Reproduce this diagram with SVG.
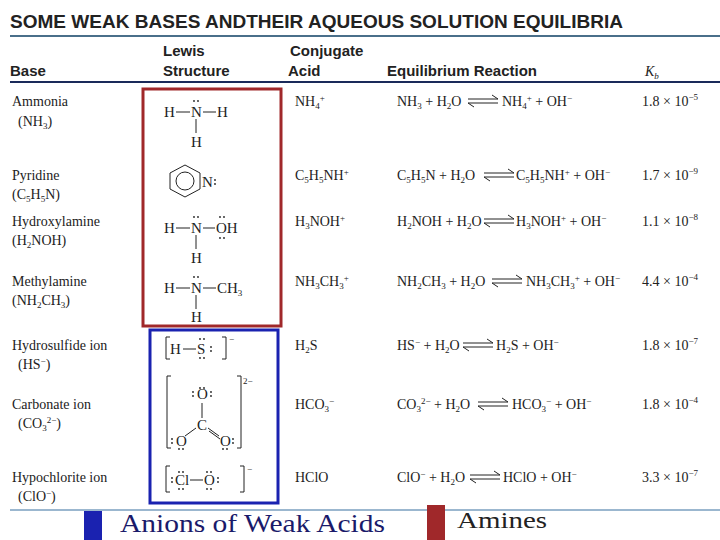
<svg xmlns="http://www.w3.org/2000/svg" width="720" height="540" viewBox="0 0 720 540">
<style>
.t{font-family:"Liberation Serif",serif;font-size:14px;fill:#222}
.h{font-family:"Liberation Sans",sans-serif;font-size:15px;font-weight:bold;fill:#222}
.s{font-family:"Liberation Serif",serif;font-size:15px;fill:#222}
.ln{stroke:#222;stroke-width:1;fill:none}
.sup{font-size:9px}
.d{fill:#222}
</style>
<defs>
<g id="eq"><line x1="0" y1="-2" x2="30" y2="-2" class="ln"/><path d="M30,-2 l-6,-4" class="ln"/><line x1="0" y1="2" x2="30" y2="2" class="ln"/><path d="M0,2 l6,4" class="ln"/></g>
<g id="lp"><circle cx="-2" cy="0" r="0.9" class="d"/><circle cx="2" cy="0" r="0.9" class="d"/></g>
<g id="lpv"><circle cx="0" cy="-2" r="0.9" class="d"/><circle cx="0" cy="2" r="0.9" class="d"/></g>
</defs>
<rect width="720" height="540" fill="#fff"/>
<text x="10" y="28" class="h" style="font-size:19px" textLength="613">SOME WEAK BASES ANDTHEIR AQUEOUS SOLUTION EQUILIBRIA</text>
<line x1="10" y1="36" x2="720" y2="36" stroke="#4a6f8a" stroke-width="2"/>
<text x="10" y="76" class="h">Base</text>
<text x="163" y="56" class="h">Lewis</text>
<text x="163" y="76" class="h">Structure</text>
<text x="290" y="56" class="h">Conjugate</text>
<text x="288" y="76" class="h">Acid</text>
<text x="387" y="76" class="h">Equilibrium Reaction</text>
<text x="645" y="76" class="t" font-style="italic">K<tspan class="sup" dy="3">b</tspan></text>
<line x1="10" y1="82" x2="720" y2="82" stroke="#1a2a5a" stroke-width="2"/>
<line x1="10" y1="510" x2="720" y2="510" stroke="#9bb7cf" stroke-width="2"/>

<g id="col-base" class="t">
<text x="12" y="106">Ammonia</text><text x="18" y="126">(NH<tspan class="sup" dy="3">3</tspan><tspan dy="-3">)</tspan></text>
<text x="12" y="180">Pyridine</text><text x="12" y="199">(C<tspan class="sup" dy="3">5</tspan><tspan dy="-3">H</tspan><tspan class="sup" dy="3">5</tspan><tspan dy="-3">N)</tspan></text>
<text x="12" y="226">Hydroxylamine</text><text x="12" y="245">(H<tspan class="sup" dy="3">2</tspan><tspan dy="-3">NOH)</tspan></text>
<text x="12" y="286">Methylamine</text><text x="12" y="305">(NH<tspan class="sup" dy="3">2</tspan><tspan dy="-3">CH</tspan><tspan class="sup" dy="3">3</tspan><tspan dy="-3">)</tspan></text>
<text x="12" y="350">Hydrosulfide ion</text><text x="18" y="369">(HS<tspan class="sup" dy="-5">−</tspan><tspan dy="5">)</tspan></text>
<text x="12" y="409">Carbonate ion</text><text x="18" y="428">(CO<tspan class="sup" dy="3">3</tspan><tspan class="sup" dy="-8">2−</tspan><tspan dy="5">)</tspan></text>
<text x="12" y="482">Hypochlorite ion</text><text x="18" y="501">(ClO<tspan class="sup" dy="-5">−</tspan><tspan dy="5">)</tspan></text>
</g>

<g id="amines-box"><rect x="143" y="89" width="138" height="237" fill="none" stroke="#a0282a" stroke-width="3"/></g>
<g id="anions-box"><rect x="150" y="330" width="128" height="173" fill="none" stroke="#1a22b0" stroke-width="3"/></g>

<g id="lewis" class="s">
<text x="164" y="117">H</text><line x1="176" y1="112" x2="190" y2="112" class="ln"/><text x="191" y="117">N</text><use href="#lp" x="196" y="101"/><line x1="203" y1="112" x2="216" y2="112" class="ln"/><text x="217" y="117">H</text><line x1="196" y1="119" x2="196" y2="133" class="ln"/><text x="191" y="147">H</text>
<polygon points="185,165 200,173 200,189 185,197 170,189 170,173" class="ln"/><circle cx="185" cy="181" r="9" class="ln"/><text x="202" y="187">N</text><use href="#lpv" x="215" y="182"/>
<text x="164" y="233">H</text><line x1="176" y1="228" x2="190" y2="228" class="ln"/><text x="191" y="233">N</text><use href="#lp" x="196" y="217"/><line x1="203" y1="228" x2="215" y2="228" class="ln"/><text x="216" y="233">OH</text><use href="#lp" x="222" y="217"/><use href="#lp" x="222" y="238"/><line x1="196" y1="235" x2="196" y2="249" class="ln"/><text x="191" y="263">H</text>
<text x="164" y="293">H</text><line x1="176" y1="288" x2="190" y2="288" class="ln"/><text x="191" y="293">N</text><use href="#lp" x="196" y="277"/><line x1="203" y1="288" x2="216" y2="288" class="ln"/><text x="217" y="293">CH<tspan class="sup" dy="3">3</tspan></text><line x1="196" y1="295" x2="196" y2="309" class="ln"/><text x="191" y="322">H</text>
<path d="M170,337 h-4 v22 h4 M222,337 h4 v22 h-4" class="ln"/><text x="170" y="354">H</text><line x1="183" y1="349" x2="196" y2="349" class="ln"/><text x="197" y="354">S</text><use href="#lp" x="202" y="339"/><use href="#lp" x="202" y="358"/><use href="#lpv" x="211" y="349"/><text x="229" y="342" class="sup">−</text>
<path d="M171,376 h-4 v72 h4 M237,376 h4 v72 h-4" class="ln"/>
<text x="197" y="399">O</text><use href="#lp" x="202" y="388"/><use href="#lpv" x="193" y="394"/><use href="#lpv" x="211" y="394"/>
<line x1="202" y1="403" x2="202" y2="418" class="ln"/><text x="197" y="430">C</text>
<line x1="196" y1="428" x2="185" y2="436" class="ln"/><line x1="208" y1="428" x2="219" y2="436" class="ln"/><line x1="209" y1="431" x2="220" y2="439" class="ln"/>
<text x="176" y="446">O</text><use href="#lpv" x="172" y="441"/><use href="#lp" x="181" y="449"/>
<text x="220" y="446">O</text><use href="#lpv" x="233" y="441"/><use href="#lp" x="225" y="449"/>
<text x="243" y="384" class="sup">2−</text>
<path d="M170,466 h-4 v26 h4 M240,466 h4 v26 h-4" class="ln"/><text x="175" y="485">Cl</text><use href="#lpv" x="172" y="480"/><use href="#lp" x="181" y="472"/><use href="#lp" x="181" y="489"/><line x1="190" y1="480" x2="203" y2="480" class="ln"/><text x="204" y="485">O</text><use href="#lp" x="209" y="472"/><use href="#lp" x="209" y="489"/><use href="#lpv" x="218" y="480"/><text x="247" y="472" class="sup">−</text>
</g>

<g id="col-acid" class="t">
<text x="295" y="106">NH<tspan class="sup" dy="3">4</tspan><tspan class="sup" dy="-8">+</tspan></text>
<text x="295" y="180">C<tspan class="sup" dy="3">5</tspan><tspan dy="-3">H</tspan><tspan class="sup" dy="3">5</tspan><tspan dy="-3">NH</tspan><tspan class="sup" dy="-5">+</tspan></text>
<text x="295" y="226">H<tspan class="sup" dy="3">3</tspan><tspan dy="-3">NOH</tspan><tspan class="sup" dy="-5">+</tspan></text>
<text x="295" y="286">NH<tspan class="sup" dy="3">3</tspan><tspan dy="-3">CH</tspan><tspan class="sup" dy="3">3</tspan><tspan class="sup" dy="-8">+</tspan></text>
<text x="295" y="350">H<tspan class="sup" dy="3">2</tspan><tspan dy="-3">S</tspan></text>
<text x="295" y="409">HCO<tspan class="sup" dy="3">3</tspan><tspan class="sup" dy="-8">−</tspan></text>
<text x="295" y="482">HClO</text>
</g>

<g id="col-reaction" class="t">
<text x="397" y="106">NH<tspan class="sup" dy="3">3</tspan><tspan dy="-3"> + H</tspan><tspan class="sup" dy="3">2</tspan><tspan dy="-3">O</tspan></text><use href="#eq" x="468" y="101"/><text x="502" y="106">NH<tspan class="sup" dy="3">4</tspan><tspan class="sup" dy="-8">+</tspan><tspan dy="5"> + OH</tspan><tspan class="sup" dy="-5">−</tspan></text>
<text x="397" y="180">C<tspan class="sup" dy="3">5</tspan><tspan dy="-3">H</tspan><tspan class="sup" dy="3">5</tspan><tspan dy="-3">N + H</tspan><tspan class="sup" dy="3">2</tspan><tspan dy="-3">O</tspan></text><use href="#eq" x="484" y="175"/><text x="516" y="180">C<tspan class="sup" dy="3">5</tspan><tspan dy="-3">H</tspan><tspan class="sup" dy="3">5</tspan><tspan dy="-3">NH</tspan><tspan class="sup" dy="-5">+</tspan><tspan dy="5"> + OH</tspan><tspan class="sup" dy="-5">−</tspan></text>
<text x="397" y="226">H<tspan class="sup" dy="3">2</tspan><tspan dy="-3">NOH + H</tspan><tspan class="sup" dy="3">2</tspan><tspan dy="-3">O</tspan></text><use href="#eq" x="484" y="221"/><text x="516" y="226">H<tspan class="sup" dy="3">3</tspan><tspan dy="-3">NOH</tspan><tspan class="sup" dy="-5">+</tspan><tspan dy="5"> + OH</tspan><tspan class="sup" dy="-5">−</tspan></text>
<text x="397" y="286">NH<tspan class="sup" dy="3">2</tspan><tspan dy="-3">CH</tspan><tspan class="sup" dy="3">3</tspan><tspan dy="-3"> + H</tspan><tspan class="sup" dy="3">2</tspan><tspan dy="-3">O</tspan></text><use href="#eq" x="492" y="281"/><text x="526" y="286">NH<tspan class="sup" dy="3">3</tspan><tspan dy="-3">CH</tspan><tspan class="sup" dy="3">3</tspan><tspan class="sup" dy="-8">+</tspan><tspan dy="5"> + OH</tspan><tspan class="sup" dy="-5">−</tspan></text>
<text x="397" y="350">HS<tspan class="sup" dy="-5">−</tspan><tspan dy="5"> + H</tspan><tspan class="sup" dy="3">2</tspan><tspan dy="-3">O</tspan></text><use href="#eq" x="463" y="345"/><text x="496" y="350">H<tspan class="sup" dy="3">2</tspan><tspan dy="-3">S + OH</tspan><tspan class="sup" dy="-5">−</tspan></text>
<text x="397" y="409">CO<tspan class="sup" dy="3">3</tspan><tspan class="sup" dy="-8">2−</tspan><tspan dy="5"> + H</tspan><tspan class="sup" dy="3">2</tspan><tspan dy="-3">O</tspan></text><use href="#eq" x="478" y="404"/><text x="512" y="409">HCO<tspan class="sup" dy="3">3</tspan><tspan class="sup" dy="-8">−</tspan><tspan dy="5"> + OH</tspan><tspan class="sup" dy="-5">−</tspan></text>
<text x="397" y="482">ClO<tspan class="sup" dy="-5">−</tspan><tspan dy="5"> + H</tspan><tspan class="sup" dy="3">2</tspan><tspan dy="-3">O</tspan></text><use href="#eq" x="470" y="477"/><text x="503" y="482">HClO + OH<tspan class="sup" dy="-5">−</tspan></text>
</g>

<g id="col-kb" class="t">
<text x="642" y="106">1.8 × 10<tspan class="sup" dy="-6">−5</tspan></text>
<text x="642" y="180">1.7 × 10<tspan class="sup" dy="-6">−9</tspan></text>
<text x="642" y="226">1.1 × 10<tspan class="sup" dy="-6">−8</tspan></text>
<text x="642" y="286">4.4 × 10<tspan class="sup" dy="-6">−4</tspan></text>
<text x="642" y="350">1.8 × 10<tspan class="sup" dy="-6">−7</tspan></text>
<text x="642" y="409">1.8 × 10<tspan class="sup" dy="-6">−4</tspan></text>
<text x="642" y="482">3.3 × 10<tspan class="sup" dy="-6">−7</tspan></text>
</g>

<g id="legend">
<rect x="84" y="511" width="18" height="29" fill="#1a22b0"/>
<text x="120" y="532" font-family="Liberation Serif,serif" font-size="26" fill="#1a1a6a" textLength="265" lengthAdjust="spacingAndGlyphs">Anions of Weak Acids</text>
<rect x="427" y="505" width="18" height="35" fill="#a0282a"/>
<text x="457" y="528" font-family="Liberation Serif,serif" font-size="24" fill="#222" textLength="90" lengthAdjust="spacingAndGlyphs">Amines</text>
</g>
</svg>
